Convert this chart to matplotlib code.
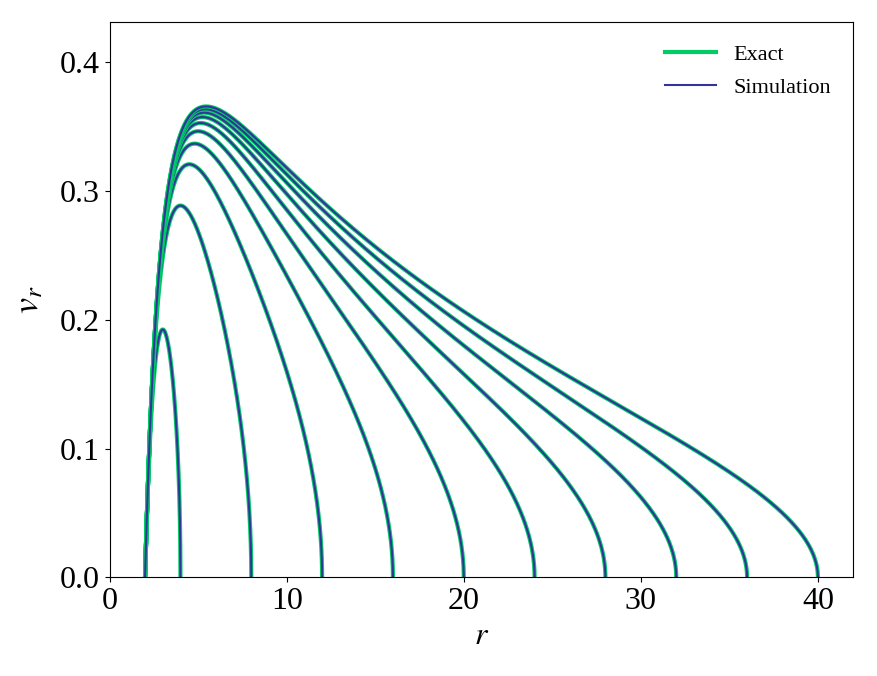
import numpy as np
import matplotlib.pyplot as plt

plt.rcParams['font.family'] = ['Liberation Serif', 'DejaVu Serif']
plt.rcParams['mathtext.fontset'] = 'stix'

# release radii (curves start at horizon r = 2)
r_horizon = 2.0
release_radii = [4, 8, 12, 16, 20, 24, 28, 32, 36, 40]

exact_color = '#00cc66'
sim_color = '#333399'


def coord_velocity(r, R):
    # dr/dt for radial fall from rest at R (Schwarzschild, M = 1)
    v2 = np.clip(r_horizon / r - r_horizon / R, 0, None)
    return (1 - r_horizon / r) * np.sqrt(v2) / np.sqrt(1 - r_horizon / R)


fig, ax = plt.subplots(figsize=(8.77, 6.76), dpi=100)

for i, R in enumerate(release_radii):
    # dense near both ends where the curves are steep
    s = np.linspace(0, 1, 2000)
    r = r_horizon + (R - r_horizon) * (0.5 - 0.5 * np.cos(np.pi * s))
    v = coord_velocity(r, R)
    ax.plot(r, v, color=exact_color, lw=3, label='Exact' if i == 0 else None)
    ax.plot(r, v, color=sim_color, lw=1.5, label='Simulation' if i == 0 else None)

ax.set_xlim(0, 42)
ax.set_ylim(0, 0.431)
ax.set_xticks([0, 10, 20, 30, 40])
ax.set_yticks([0.0, 0.1, 0.2, 0.3, 0.4])
ax.tick_params(labelsize=23)
ax.set_xlabel('$r$', fontsize=23, labelpad=4)
ax.set_ylabel('$v_r$', fontsize=26, labelpad=10)
ax.legend(frameon=False, fontsize=16, loc='upper right', handlelength=2.3,
          labelspacing=0.55, borderaxespad=0.6)

plt.subplots_adjust(left=0.125, right=0.973, top=0.967, bottom=0.146)
plt.savefig('out.png')
